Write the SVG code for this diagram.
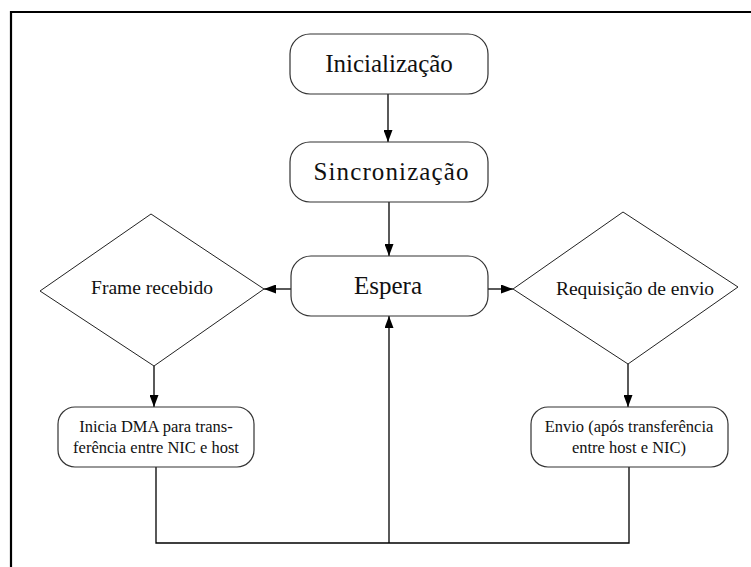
<svg xmlns="http://www.w3.org/2000/svg" width="751" height="567" viewBox="0 0 751 567">
  <defs>
    <marker id="arrow" viewBox="0 0 12 9" refX="12" refY="4.5" markerWidth="12" markerHeight="9" markerUnits="userSpaceOnUse" orient="auto">
      <path d="M0,0 L12,4.5 L0,9 Z" fill="#000"/>
    </marker>
  </defs>
  <style>
    .box { fill: #fff; stroke: #333; stroke-width: 1.2; }
    .dia { fill: #fff; stroke: #222; stroke-width: 1; }
    .edge { fill: none; stroke: #000; stroke-width: 1.3; }
    text { font-family: "Liberation Serif", Tinos, "Times New Roman", "DejaVu Serif", serif; fill: #111; text-anchor: middle; }
    .big { font-size: 25px; }
    .mid { font-size: 19.5px; }
    .small { font-size: 16.5px; }
  </style>
  <rect width="751" height="567" fill="#fff"/>
  <!-- outer frame -->
  <path d="M11,567 V12 H751" fill="none" stroke="#000" stroke-width="2.2"/>

  <g id="connectors">
    <line class="edge" x1="388" y1="94" x2="388" y2="142" marker-end="url(#arrow)"/>
    <line class="edge" x1="389" y1="202" x2="389" y2="256" marker-end="url(#arrow)"/>
    <line class="edge" x1="291" y1="289" x2="264" y2="289" marker-end="url(#arrow)"/>
    <line class="edge" x1="488" y1="289" x2="513" y2="289" marker-end="url(#arrow)"/>
    <line class="edge" x1="154" y1="366" x2="154" y2="407" marker-end="url(#arrow)"/>
    <line class="edge" x1="628" y1="364" x2="628" y2="407" marker-end="url(#arrow)"/>
    <path class="edge" d="M156,467 V543 H629 V467"/>
    <line class="edge" x1="389" y1="543" x2="389" y2="316" marker-end="url(#arrow)"/>
  </g>

  <g id="inicializacao">
    <rect class="box" x="290" y="34" width="198" height="60" rx="20" ry="20"/>
    <text class="big" x="389" y="72">Inicialização</text>
  </g>

  <g id="sincronizacao">
    <rect class="box" x="290" y="142" width="198" height="60" rx="20" ry="20"/>
    <text class="big" x="391" y="180" textLength="155" lengthAdjust="spacing">Sincronização</text>
  </g>

  <g id="espera">
    <rect class="box" x="291" y="256" width="197" height="60" rx="20" ry="20"/>
    <text class="big" x="388" y="294" font-size="26">Espera</text>
  </g>

  <g id="frame-recebido">
    <polygon class="dia" points="151,214 264,289 154,366 40,291"/>
    <text class="mid" x="152" y="294">Frame recebido</text>
  </g>

  <g id="requisicao-envio">
    <polygon class="dia" points="623,212 738,287 628,364 513,289"/>
    <text class="mid" x="635" y="295">Requisição de envio</text>
  </g>

  <g id="inicia-dma">
    <rect class="box" x="58" y="407" width="196" height="60" rx="17" ry="17"/>
    <text class="small" x="156" y="432">Inicia DMA para trans-</text>
    <text class="small" x="156" y="453">ferência entre NIC e host</text>
  </g>

  <g id="envio">
    <rect class="box" x="531" y="407" width="197" height="60" rx="17" ry="17"/>
    <text class="small" x="629" y="432">Envio (após transferência</text>
    <text class="small" x="629" y="453">entre host e NIC)</text>
  </g>
</svg>
